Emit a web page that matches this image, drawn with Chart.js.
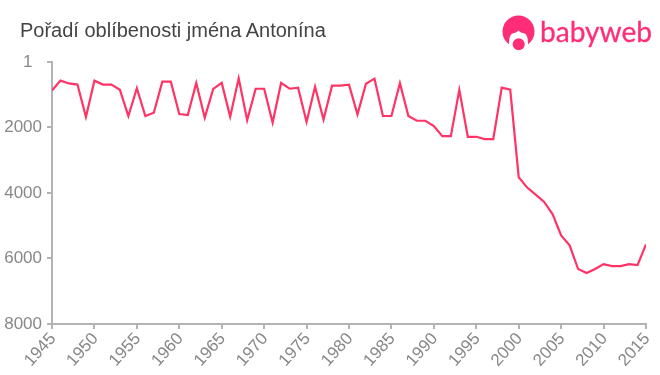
<!DOCTYPE html>
<html><head><meta charset="utf-8">
<style>
html,body{margin:0;padding:0;background:#fff;width:660px;height:375px;overflow:hidden}
#wrap{position:relative;width:660px;height:375px}
#title{position:absolute;left:20px;top:19px;font:20px "Liberation Sans",Arial,sans-serif;color:#444;white-space:nowrap}
#logo{position:absolute;left:490px;top:5px}
canvas{position:absolute;left:0;top:0}
</style></head><body>
<div id="wrap">
<canvas id="c" width="660" height="375"></canvas>
<div id="title">Pořadí oblíbenosti jména Antonína</div>
<svg id="logo" width="170" height="55" viewBox="0 0 170 55">
<circle cx="28.5" cy="26.5" r="16" fill="#ff2d78"/>
<path d="M19 38 Q19 28.5 24 28 Q26 28 28.5 25.5 Q31 28 33 28 Q38 28.5 38 38 L38 45 L19 45 Z" fill="#fff"/>
<circle cx="28.7" cy="39.3" r="6" fill="#ff2d78"/>
<text x="50" y="37" font-family="Lato,'Open Sans',sans-serif" font-size="28" fill="#ff2d78" stroke="#ff2d78" stroke-width="0.3" textLength="112" lengthAdjust="spacingAndGlyphs">babyweb</text>
</svg>
</div>
<script src="https://cdn.jsdelivr.net/npm/chart.js@4"></script>
<script>
const years=[1945,1946,1947,1948,1949,1950,1951,1952,1953,1954,1955,1956,1957,1958,1959,1960,1961,1962,1963,1964,1965,1966,1967,1968,1969,1970,1971,1972,1973,1974,1975,1976,1977,1978,1979,1980,1981,1982,1983,1984,1985,1986,1987,1988,1989,1990,1991,1992,1993,1994,1995,1996,1997,1998,1999,2000,2001,2002,2003,2004,2005,2006,2007,2008,2009,2010,2011,2012,2013,2014,2015];
const ranks=[870,570,655,690,1680,570,690,690,850,1650,800,1650,1550,600,600,1590,1620,640,1700,820,640,1670,500,1780,817,817,1850,640,817,785,1830,760,1760,725,725,694,1600,663,510,1650,1650,650,1650,1795,1795,1958,2264,2264,850,2285,2285,2355,2355,785,847,3518,3835,4050,4273,4650,5293,5600,6323,6445,6323,6170,6232,6232,6170,6200,5568];
const yTicks=[1,2000,4000,6000,8000];
const yLabels=["1\u00a0\u00a0","2000","4000","6000","8000"];
const axisColor="#b3b3b3", tickColor="#888888", lineColor="#ff3366";
const tickFont={family:"'Liberation Sans',Arial,sans-serif",size:17};
new Chart(document.getElementById("c"),{
 type:"line",
 data:{datasets:[{data:years.map((y,i)=>({x:y,y:ranks[i]})),borderColor:lineColor,borderWidth:2.2,pointRadius:0,tension:0,fill:false}]},
 options:{
  responsive:false,animation:false,
  layout:{padding:{left:0,right:14,top:62,bottom:0}},
  plugins:{legend:{display:false},tooltip:{enabled:false}},
  scales:{
   x:{type:"linear",min:1945,max:2015,
      border:{color:axisColor,width:2},
      grid:{drawOnChartArea:false,drawTicks:true,tickLength:5,color:axisColor,lineWidth:2},
      ticks:{stepSize:5,autoSkip:false,maxRotation:48,minRotation:48,padding:0,labelOffset:1,color:tickColor,font:tickFont,callback:v=>String(v)},
      afterFit:s=>{s.height=51;s.paddingLeft=0;s.paddingRight=0}},
   y:{type:"linear",reverse:true,min:1,max:8000,
      border:{color:axisColor,width:2},
      grid:{drawOnChartArea:false,drawTicks:true,tickLength:5,color:axisColor,lineWidth:2},
      ticks:{padding:5,color:tickColor,font:tickFont,callback:(v)=>{const i=yTicks.indexOf(v);return i<0?"":yLabels[i]}},
      afterBuildTicks:s=>{s.ticks=yTicks.map(v=>({value:v}))},
      afterFit:s=>{s.width=52}}
  }
 }
});
</script>
</body></html>
